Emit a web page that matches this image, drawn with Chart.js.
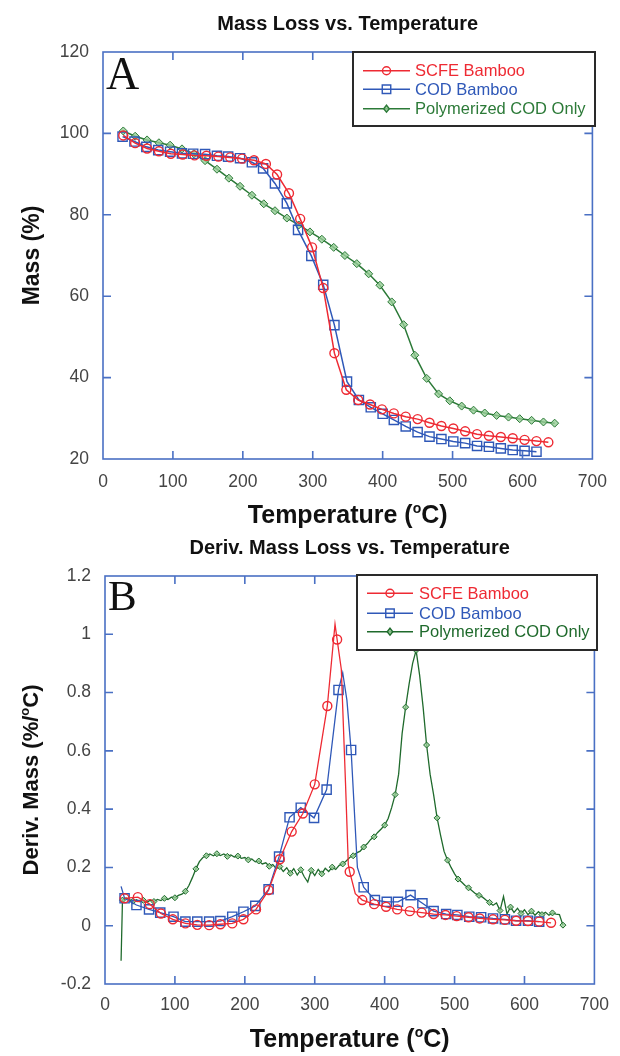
<!DOCTYPE html>
<html>
<head>
<meta charset="utf-8">
<script src="https://cdn.jsdelivr.net/npm/chart.js"></script>
<style>
  html, body { margin: 0; padding: 0; background: #fff; }
  #wrap { position: relative; width: 620px; height: 1056px; }
  canvas { position: absolute; left: 0; }
</style>
</head>
<body>
<div id="wrap">
  <canvas id="massChart" width="620" height="530" style="top:0"></canvas>
  <canvas id="derivChart" width="620" height="526" style="top:530px"></canvas>
</div>
<script>
const SANS = '"Liberation Sans", Arial, Helvetica, sans-serif';
const SERIF = '"Liberation Serif", "Times New Roman", serif';
const FRAME = '#4a70c4';
const RED = '#ee2a33';
const BLUE = '#2f58b8';
const GREEN = '#2c7a38';
const GREEN_D = '#1f6a2c';

// ---- panel A : mass (%) vs temperature (C) ----
const scfeT = [29, 46, 63, 80, 97, 114, 131, 148, 165, 182, 199, 216, 233, 249, 266, 282, 299, 315, 331, 348, 365, 382, 399, 416, 433, 450, 467, 484, 501, 518, 535, 552, 569, 586, 603, 620, 637];
const scfeMass = [99.5, 97.6, 96.3, 95.6, 95.0, 94.8, 94.6, 94.5, 94.3, 94.1, 93.8, 93.4, 92.5, 89.9, 85.3, 79.0, 72.0, 62.0, 46.0, 37.0, 34.5, 33.4, 32.2, 31.2, 30.4, 29.8, 28.9, 28.1, 27.5, 26.8, 26.1, 25.7, 25.4, 25.1, 24.7, 24.4, 24.1];

const codT = [28, 45, 62, 79, 96, 113, 129, 146, 163, 179, 196, 213, 229, 246, 263, 279, 298, 315, 331, 349, 366, 383, 400, 416, 433, 450, 467, 484, 501, 518, 535, 552, 569, 586, 603, 620];
const codMass = [99.2, 98.0, 96.7, 95.9, 95.5, 95.1, 95.0, 94.9, 94.5, 94.3, 93.9, 92.9, 91.4, 87.7, 82.8, 76.3, 69.9, 62.8, 52.9, 39.0, 34.5, 32.7, 31.1, 29.6, 28.0, 26.6, 25.5, 24.9, 24.3, 23.9, 23.2, 23.0, 22.6, 22.2, 22.0, 21.8];

const polyT = [29, 46, 63, 80, 96, 113, 130, 146, 163, 180, 196, 213, 230, 246, 263, 280, 296, 313, 330, 346, 363, 380, 396, 413, 430, 446, 463, 480, 496, 513, 530, 546, 563, 580, 596, 613, 630, 646];
const polyMass = [100.6, 99.3, 98.4, 97.7, 97.1, 96.2, 95.0, 93.3, 91.2, 89.0, 87.0, 84.8, 82.7, 81.0, 79.2, 77.5, 75.8, 74.0, 72.0, 70.0, 68.0, 65.5, 62.7, 58.6, 53.0, 45.5, 39.8, 36.0, 34.3, 33.0, 32.0, 31.3, 30.7, 30.3, 29.9, 29.5, 29.1, 28.8];

// ---- panel B : derivative mass (%/C) vs temperature ----
const scfeDT = [28, 47, 64, 80, 97, 115, 132, 149, 165, 182, 198, 216, 234, 250, 267, 283, 300, 318, 332, 350, 368, 385, 402, 418, 436, 453, 470, 487, 503, 520, 536, 555, 572, 588, 605, 621, 638];
const scfeDeriv = [0.094, 0.098, 0.074, 0.042, 0.022, 0.008, 0.003, 0.002, 0.005, 0.008, 0.022, 0.056, 0.122, 0.228, 0.323, 0.385, 0.485, 0.754, 0.982, 0.185, 0.088, 0.074, 0.065, 0.056, 0.05, 0.045, 0.04, 0.037, 0.033, 0.029, 0.025, 0.022, 0.02, 0.017, 0.016, 0.014, 0.01];
// line points between markers (peak apex and steep fall)
const scfeLineT = [329, 338, 344, 348, 358];
const scfeLineD = [1.035, 0.88, 0.49, 0.21, 0.11];

const codDT = [28, 45, 63, 79, 98, 115, 132, 149, 165, 182, 198, 215, 234, 249, 264, 280, 299, 317, 334, 352, 370, 386, 403, 419, 437, 454, 470, 488, 504, 521, 538, 555, 572, 588, 605, 621];
const codDeriv = [0.094, 0.071, 0.056, 0.045, 0.031, 0.014, 0.014, 0.014, 0.016, 0.031, 0.048, 0.068, 0.125, 0.237, 0.372, 0.405, 0.37, 0.467, 0.809, 0.603, 0.132, 0.088, 0.082, 0.082, 0.105, 0.077, 0.05, 0.04, 0.037, 0.031, 0.029, 0.025, 0.022, 0.017, 0.017, 0.014];
const codLineT = [23, 340, 346, 361];
const codLineD = [0.135, 0.868, 0.774, 0.2];

const polyDT = [23, 25, 30, 35, 40, 45, 50, 55, 60, 65, 70, 75, 80, 85, 90, 95, 100, 105, 110, 115, 120, 125, 130, 135, 140, 145, 150, 155, 160, 165, 170, 175, 180, 185, 190, 195, 200, 205, 210, 215, 220, 225, 230, 235, 240, 245, 250, 255, 260, 265, 270, 275, 280, 285, 290, 295, 300, 305, 310, 315, 320, 325, 330, 335, 340, 345, 350, 355, 360, 365, 370, 375, 380, 385, 390, 395, 400, 405, 410, 415, 420, 425, 430, 435, 440, 445, 450, 455, 460, 465, 470, 475, 480, 485, 490, 495, 500, 505, 510, 515, 520, 525, 530, 535, 540, 545, 550, 555, 560, 565, 570, 575, 580, 585, 590, 595, 600, 605, 610, 615, 620, 625, 630, 635, 640, 645, 650, 655];
const polyDeriv = [-0.12, 0.088, 0.095, 0.09, 0.084, 0.089, 0.082, 0.087, 0.08, 0.088, 0.083, 0.09, 0.086, 0.094, 0.09, 0.098, 0.096, 0.104, 0.108, 0.118, 0.138, 0.165, 0.195, 0.22, 0.234, 0.24, 0.246, 0.24, 0.247, 0.241, 0.246, 0.238, 0.243, 0.236, 0.239, 0.231, 0.234, 0.226, 0.229, 0.219, 0.222, 0.212, 0.216, 0.204, 0.21, 0.196, 0.203, 0.186, 0.199, 0.18, 0.196, 0.174, 0.192, 0.168, 0.15, 0.19, 0.172, 0.193, 0.178, 0.197, 0.186, 0.201, 0.193, 0.207, 0.212, 0.222, 0.234, 0.24, 0.25, 0.256, 0.27, 0.281, 0.296, 0.305, 0.32, 0.332, 0.345, 0.368, 0.405, 0.45, 0.52, 0.66, 0.75, 0.83, 0.9, 0.945, 0.86, 0.75, 0.62, 0.52, 0.45, 0.37, 0.31, 0.255, 0.225, 0.2, 0.178, 0.16, 0.15, 0.138, 0.13, 0.12, 0.11, 0.104, 0.098, 0.088, 0.08, 0.07, 0.078, 0.052, 0.1, 0.04, 0.064, 0.046, 0.06, 0.042, 0.055, 0.038, 0.05, 0.036, 0.048, 0.038, 0.046, 0.036, 0.044, 0.04, 0.038, 0.002];

const seriesNames = ['SCFE Bamboo', 'COD Bamboo', 'Polymerized COD Only'];

function pts(xs, ys) {
    return xs.map((x, i) => ({x: x, y: ys[i], mark: true}));
}

function withLinePoints(xs, ys, lx, ly) {
    const all = pts(xs, ys);
    lx.forEach((x, i) => all.push({x: x, y: ly[i], mark: false}));
    return all.sort((a, b) => a.x - b.x);
}

function drawMarker(ctx, style, x, y, r, stroke, fill) {
    ctx.save();
    ctx.strokeStyle = stroke;
    ctx.fillStyle = fill;
    ctx.lineWidth = 1.4;
    ctx.beginPath();
    if (style === 'circle') {
        ctx.arc(x, y, r, 0, Math.PI * 2);
    } else if (style === 'rect') {
        const s = r * Math.SQRT1_2;
        ctx.rect(x - s, y - s, 2 * s, 2 * s);
    } else {
        ctx.moveTo(x, y - r);
        ctx.lineTo(x + r * 0.8, y);
        ctx.lineTo(x, y + r);
        ctx.lineTo(x - r * 0.8, y);
        ctx.closePath();
    }
    ctx.fill();
    ctx.stroke();
    ctx.restore();
}

// text with a raised small "o" for degrees
function richText(ctx, parts, size, cx, baseY) {
    const big = `bold ${size}px ${SANS}`;
    const small = `bold ${Math.round(size * 0.58)}px ${SANS}`;
    let w = 0;
    parts.forEach((p) => {
        ctx.font = p.sup ? small : big;
        w += ctx.measureText(p.t).width;
    });
    let x = cx - w / 2;
    ctx.textAlign = 'left';
    ctx.textBaseline = 'alphabetic';
    parts.forEach((p) => {
        ctx.font = p.sup ? small : big;
        ctx.fillText(p.t, x, p.sup ? baseY - size * 0.42 : baseY);
        x += ctx.measureText(p.t).width;
    });
}

const frameTicks = {
    id: 'frameTicks',
    afterDatasetsDraw(chart) {
        const {ctx, chartArea: a, scales} = chart;
        const len = 8;
        ctx.save();
        ctx.strokeStyle = FRAME;
        ctx.lineWidth = 1.6;
        ctx.beginPath();
        scales.x.ticks.forEach((t) => {
            const px = scales.x.getPixelForValue(t.value);
            if (px < a.left + 2 || px > a.right - 2) return;
            ctx.moveTo(px, a.bottom);
            ctx.lineTo(px, a.bottom - len);
            ctx.moveTo(px, a.top);
            ctx.lineTo(px, a.top + len);
        });
        scales.y.ticks.forEach((t) => {
            const py = scales.y.getPixelForValue(t.value);
            if (py < a.top + 2 || py > a.bottom - 2) return;
            ctx.moveTo(a.left, py);
            ctx.lineTo(a.left + len, py);
            ctx.moveTo(a.right, py);
            ctx.lineTo(a.right - len, py);
        });
        ctx.stroke();
        ctx.strokeRect(a.left, a.top, a.right - a.left, a.bottom - a.top);
        ctx.restore();
    }
};

function makeDeco(cfg) {
    return {
        id: 'deco',
        afterDraw(chart) {
            const {ctx, chartArea: a} = chart;
            const cx = (a.left + a.right) / 2;
            ctx.save();
            ctx.fillStyle = '#111';
            ctx.font = `bold ${cfg.title.size}px ${SANS}`;
            ctx.textAlign = 'center';
            ctx.textBaseline = 'alphabetic';
            ctx.fillText(cfg.title.text, cx, cfg.title.y);

            ctx.font = `${cfg.panel.size}px ${SERIF}`;
            ctx.textAlign = 'left';
            ctx.fillText(cfg.panel.text, cfg.panel.x, cfg.panel.y);

            richText(ctx, cfg.xTitle, cfg.xSize, cx, cfg.xY);

            ctx.save();
            ctx.translate(cfg.yX, (a.top + a.bottom) / 2);
            ctx.rotate(-Math.PI / 2);
            richText(ctx, cfg.yTitle, cfg.ySize, 0, 0);
            ctx.restore();

            const L = cfg.legend;
            ctx.fillStyle = '#fff';
            ctx.fillRect(L.x, L.y, L.w, L.h);
            ctx.strokeStyle = '#2a2a2a';
            ctx.lineWidth = 2;
            ctx.strokeRect(L.x, L.y, L.w, L.h);
            chart.data.datasets.forEach((ds, i) => {
                const ry = L.rows[i];
                ctx.strokeStyle = ds.borderColor;
                ctx.lineWidth = 1.5;
                ctx.beginPath();
                ctx.moveTo(L.lineX[0], ry);
                ctx.lineTo(L.lineX[1], ry);
                ctx.stroke();
                drawMarker(ctx, ds.pointStyle, (L.lineX[0] + L.lineX[1]) / 2, ry,
                    ds.pointStyle === 'rectRot' ? 3.5 : (ds.pointStyle === 'rect' ? 6 : 4),
                    ds.borderColor, ds.pointStyle === 'rectRot' ? 'rgba(150,205,150,0.8)' : 'rgba(255,255,255,0)');
                ctx.fillStyle = ds.borderColor;
                ctx.font = `${L.size}px ${SANS}`;
                ctx.textAlign = 'left';
                ctx.textBaseline = 'middle';
                ctx.fillText(ds.label, L.textX, ry + 1);
            });
            ctx.restore();
        }
    };
}

function axes(xMin, xMax, xStep, yMin, yMax, yStep, yWidth, xHeight, xPad, fmt) {
    const tickFont = {family: SANS, size: 17.5};
    return {
        x: {
            type: 'linear', min: xMin, max: xMax,
            grid: {display: false, drawTicks: false},
            border: {display: false},
            ticks: {stepSize: xStep, font: tickFont, color: '#444', padding: xPad, maxRotation: 0},
            afterFit: (s) => { s.height = xHeight; }
        },
        y: {
            type: 'linear', min: yMin, max: yMax,
            grid: {display: false, drawTicks: false},
            border: {display: false},
            ticks: {stepSize: yStep, font: tickFont, color: '#444', padding: 14, callback: fmt},
            afterFit: (s) => { s.width = yWidth; }
        }
    };
}

const degree = [{t: 'Temperature ('}, {t: 'o', sup: true}, {t: 'C)'}];

new Chart(document.getElementById('massChart'), {
    type: 'line',
    data: {
        datasets: [{
            label: seriesNames[0],
            data: pts(scfeT, scfeMass),
            borderColor: RED, backgroundColor: 'rgba(255,255,255,0)',
            borderWidth: 1.5, pointStyle: 'circle', pointRadius: 4.5, pointBorderWidth: 1.4
        }, {
            label: seriesNames[1],
            data: pts(codT, codMass),
            borderColor: BLUE, backgroundColor: 'rgba(255,255,255,0)',
            borderWidth: 1.5, pointStyle: 'rect', pointRadius: 6.5, pointBorderWidth: 1.4
        }, {
            label: seriesNames[2],
            data: pts(polyT, polyMass),
            borderColor: GREEN, backgroundColor: 'rgba(150,205,150,0.8)',
            borderWidth: 1.5, pointStyle: 'rectRot', pointRadius: 4, pointBorderWidth: 1
        }]
    },
    options: {
        responsive: false, animation: false, events: [],
        layout: {padding: {top: 52, right: 24, left: 0, bottom: 0}},
        scales: axes(0, 700, 100, 20, 120, 20, 103, 71, 13),
        plugins: {legend: {display: false}, tooltip: {enabled: false}}
    },
    plugins: [frameTicks, makeDeco({
        title: {text: 'Mass Loss vs. Temperature', y: 30, size: 20},
        panel: {text: 'A', x: 106, y: 89, size: 46},
        xTitle: degree, xSize: 25, xY: 523,
        yTitle: [{t: 'Mass (%)'}], ySize: 23, yX: 39,
        legend: {x: 353, y: 52, w: 242, h: 74, rows: [70.7, 89.3, 108.7], lineX: [363, 410], textX: 415, size: 16.5}
    })]
});

new Chart(document.getElementById('derivChart'), {
    type: 'line',
    data: {
        datasets: [{
            label: seriesNames[0],
            data: withLinePoints(scfeDT, scfeDeriv, scfeLineT, scfeLineD),
            borderColor: RED, backgroundColor: 'rgba(255,255,255,0)',
            borderWidth: 1.3, pointStyle: 'circle', pointBorderWidth: 1.4,
            pointRadius: (c) => (c.raw && c.raw.mark ? 4.5 : 0)
        }, {
            label: seriesNames[1],
            data: withLinePoints(codDT, codDeriv, codLineT, codLineD),
            borderColor: BLUE, backgroundColor: 'rgba(255,255,255,0)',
            borderWidth: 1.3, pointStyle: 'rect', pointBorderWidth: 1.4,
            pointRadius: (c) => (c.raw && c.raw.mark ? 6.5 : 0)
        }, {
            label: seriesNames[2],
            data: pts(polyDT, polyDeriv),
            borderColor: GREEN_D, backgroundColor: 'rgba(150,205,150,0.8)',
            borderWidth: 1.3, pointStyle: 'rectRot', pointBorderWidth: 1,
            pointRadius: (c) => (c.dataIndex % 3 === 1 ? 3 : 0)
        }]
    },
    options: {
        responsive: false, animation: false, events: [],
        layout: {padding: {top: 46, right: 21, left: 0, bottom: 0}},
        scales: axes(0, 700, 100, -0.2, 1.2, 0.2, 105, 72, 11, (v) => String(Math.round(v * 10) / 10)),
        plugins: {legend: {display: false}, tooltip: {enabled: false}}
    },
    plugins: [frameTicks, makeDeco({
        title: {text: 'Deriv. Mass Loss vs. Temperature', y: 24, size: 20},
        panel: {text: 'B', x: 108, y: 80, size: 43},
        xTitle: degree, xSize: 25, xY: 517,
        yTitle: [{t: 'Deriv. Mass (%/'}, {t: 'o', sup: true}, {t: 'C)'}], ySize: 22, yX: 38,
        legend: {x: 357, y: 45, w: 240, h: 75, rows: [63.3, 83.3, 101.7], lineX: [367, 413], textX: 419, size: 16.5}
    })]
});
</script>
</body>
</html>
